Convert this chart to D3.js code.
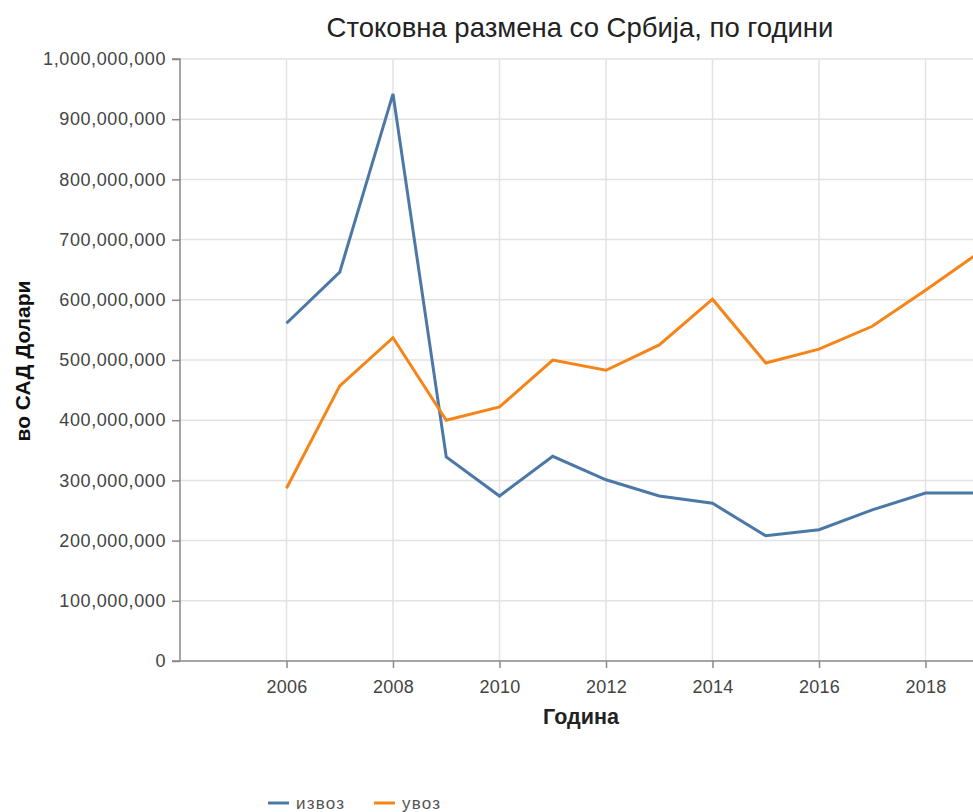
<!DOCTYPE html>
<html><head><meta charset="utf-8">
<script src="https://cdn.jsdelivr.net/npm/d3@7/dist/d3.min.js"></script>
<style>
html,body{margin:0;padding:0;background:#fff;overflow:hidden;}
svg{display:block;font-family:"Liberation Sans",Arial,sans-serif;}
</style></head>
<body>
<script>
const years = [2006,2007,2008,2009,2010,2011,2012,2013,2014,2015,2016,2017,2018,2019];
const exportValues = [561e6,646e6,942e6,339e6,274e6,340e6,301e6,274e6,262e6,208e6,218e6,251e6,279e6,279e6];
const importValues = [287e6,457e6,537e6,400e6,422e6,500e6,483e6,525e6,601e6,495e6,518e6,556e6,616e6,678e6];
const seriesNames = ["извоз","увоз"];
const seriesColors = ["#4c78a8","#f58518"];
const yTicks = [0,1e8,2e8,3e8,4e8,5e8,6e8,7e8,8e8,9e8,1e9];
const xTicks = [2006,2008,2010,2012,2014,2016,2018];
const title = "Стоковна размена со Србија, по години";
const xTitle = "Година";
const yTitle = "во САД Долари";

const W = 973, H = 812;
const svg = d3.select("body").append("svg").attr("width",W).attr("height",H);

const x0 = 180, y0 = 661, yTop = 59;
const x = d3.scaleLinear().domain([2004,2021]).range([x0, x0 + 17*53.25]);
const y = d3.scaleLinear().domain([0,1e9]).range([y0,yTop]);

// grid
const g = svg.append("g");
g.selectAll("line.hg").data(yTicks.filter(d=>d>0)).enter().append("line")
  .attr("x1",x0).attr("x2",W).attr("y1",d=>y(d)).attr("y2",d=>y(d))
  .attr("stroke","#e2e2e2").attr("stroke-width",1.5);
g.selectAll("line.vg").data(xTicks).enter().append("line")
  .attr("x1",d=>x(d)).attr("x2",d=>x(d)).attr("y1",yTop).attr("y2",y0)
  .attr("stroke","#e2e2e2").attr("stroke-width",1.5);

// y axis
const fmt = d3.format(",");
const yAxis = svg.append("g").attr("transform",`translate(${x0},0)`)
  .call(d3.axisLeft(y).tickValues(yTicks).tickFormat(fmt).tickSize(8).tickPadding(6));
yAxis.select(".domain").attr("stroke","#888").attr("stroke-width",1.5).attr("d",`M-8,${yTop}H0V${y0}`);
yAxis.selectAll(".tick line").attr("stroke","#888").attr("stroke-width",1.5);
yAxis.selectAll(".tick text").attr("fill","#444").style("font-size","18px").style("letter-spacing","0.6px")
  .style("font-family","'Liberation Sans',Arial,sans-serif");

// x axis
const xAxis = svg.append("g").attr("transform",`translate(0,${y0})`)
  .call(d3.axisBottom(x).tickValues(xTicks).tickFormat(d3.format("d")).tickSize(7).tickPadding(12));
xAxis.select(".domain").attr("stroke","#888").attr("stroke-width",1.5).attr("d",`M${x0-8},0H${W+10}`);
xAxis.selectAll(".tick line").attr("stroke","#888").attr("stroke-width",1.5);
xAxis.selectAll(".tick text").attr("fill","#444").style("font-size","18px").style("letter-spacing","0.2px")
  .style("font-family","'Liberation Sans',Arial,sans-serif");

// lines
const line = d3.line().x((d,i)=>x(years[i])).y(d=>y(d));
[exportValues, importValues].forEach((vals,k)=>{
  svg.append("path").datum(vals).attr("d",line).attr("fill","none")
    .attr("stroke",seriesColors[k]).attr("stroke-width",3).attr("stroke-linejoin","miter");
});

// titles
svg.append("text").attr("x",580).attr("y",37).attr("text-anchor","middle")
  .style("font-size","27.5px").attr("fill","#222").text(title);
svg.append("text").attr("x",581).attr("y",724).attr("text-anchor","middle")
  .style("font-size","21.5px").style("font-weight","bold").attr("fill","#222").text(xTitle);
svg.append("text").attr("transform",`translate(30,${361}) rotate(-90)`).attr("text-anchor","middle")
  .style("font-size","21px").style("font-weight","bold").attr("fill","#111").text(yTitle);

// legend
const lg = svg.append("g");
const legendX = [268, 374];
seriesNames.forEach((n,k)=>{
  lg.append("line").attr("x1",legendX[k]).attr("x2",legendX[k]+21).attr("y1",803).attr("y2",803)
    .attr("stroke",seriesColors[k]).attr("stroke-width",3);
  lg.append("text").attr("x",legendX[k]+28).attr("y",809).style("font-size","17px").style("letter-spacing","1.2px")
    .attr("fill","#555").text(n);
});
</script>
</body></html>
